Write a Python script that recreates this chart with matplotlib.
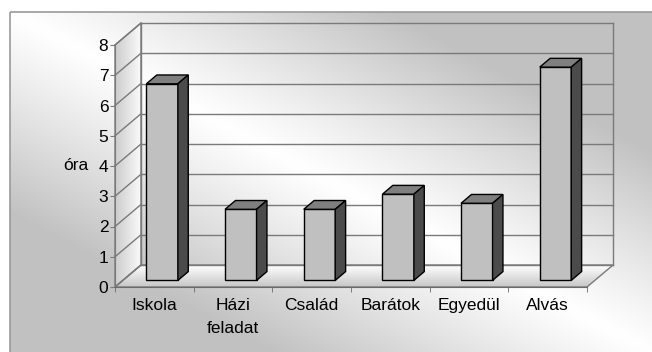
import numpy as np
import matplotlib
matplotlib.use("Agg")
from matplotlib import pyplot as plt
from matplotlib.patches import Polygon, Rectangle

# adatok
categories = ["Iskola", "Házi\nfeladat", "Család", "Barátok", "Egyedül", "Alvás"]
hours = [6.5, 2.35, 2.35, 2.85, 2.55, 7.05]
yticks = [0, 1, 2, 3, 4, 5, 6, 7, 8]
ylabel = "óra"

plt.rcParams["font.family"] = ["Liberation Sans", "DejaVu Sans"]

W, H = 652, 352
fig = plt.figure(figsize=(W / 100, H / 100), dpi=100)

# hatter: atlos szurke-feher-szurke atmenet
bg = fig.add_axes([0, 0, 1, 1])
bg.set_xlim(0, W)
bg.set_ylim(H, 0)
bg.axis("off")
xx, yy = np.meshgrid(np.linspace(10, W, 300), np.linspace(12, H, 200))
t = (xx - 10) / 642 - (yy - 12) / 340
g = 1 - 0.24 * np.clip(np.abs(t) * 1.7, 0, 1) ** 1.1
bg.imshow(np.dstack([g, g, g]), extent=[10, W, H, 12], aspect="auto",
          interpolation="bilinear", zorder=0)
bg.add_patch(Rectangle((10, 12), 700, 400, fill=False, edgecolor="#9a9a9a", lw=1.2, zorder=1))

# fo tengely: x = kategoria, y = ora
ax = fig.add_axes([0, 0, 1, 1])
ax.set_facecolor("none")
px_x = 78.67   # pixel / kategoria
px_y = 30.25   # pixel / ora
ax.set_xlim(-115 / px_x, (W - 115) / px_x)
ax.set_ylim(-(H - 287) / px_y, 287 / px_y)

DX = 26 / px_x   # melyseg eltolas
DY = 22 / px_y
n = len(categories)
top = yticks[-1]
grid_c = "#7a7a7a"

def p(x, y, d):
    return (x + d * DX, y + d * DY)

# padlo
floor = Polygon([p(0, 0, 0), p(n, 0, 0), p(n, 0, 1), p(0, 0, 1)], closed=True,
                facecolor="none", edgecolor=grid_c, lw=1, zorder=2)
ax.add_patch(floor)
fg = np.linspace(0.78, 1.0, 50).reshape(-1, 1)
im = ax.imshow(np.dstack([fg, fg, fg]), extent=[0, n + DX, 0, DY], origin="lower",
               aspect="auto", interpolation="bilinear", zorder=1)
im.set_clip_path(floor)

# oldalfal
side = Polygon([p(0, 0, 0), p(0, top, 0), p(0, top, 1), p(0, 0, 1)], closed=True,
               facecolor="none", edgecolor=grid_c, lw=1, zorder=2)
ax.add_patch(side)
sg = np.linspace(0.8, 0.98, 50).reshape(1, -1)
im2 = ax.imshow(np.dstack([sg, sg, sg]), extent=[0, DX, 0, top + DY], origin="lower",
                aspect="auto", interpolation="bilinear", zorder=1)
im2.set_clip_path(side)

# racsvonalak (hatfal + oldalfal)
for v in yticks:
    a, b = p(0, v, 0), p(0, v, 1)
    ax.plot([a[0], b[0]], [a[1], b[1]], color=grid_c, lw=1, zorder=2)
    c = p(n, v, 1)
    ax.plot([b[0], c[0]], [b[1], c[1]], color=grid_c, lw=1, zorder=2)
for x in [0, n]:
    a, b = p(x, 0, 1), p(x, top, 1)
    ax.plot([a[0], b[0]], [a[1], b[1]], color=grid_c, lw=1, zorder=2)

# oszlopok
bw = 0.4
d0, d1 = 0.3, 0.7
for i, v in enumerate(hours):
    x0 = i + 0.5 - bw / 2
    x1 = x0 + bw
    ax.bar(i + 0.5 + d0 * DX, v, width=bw, bottom=d0 * DY, color="#c0c0c0",
           edgecolor="black", lw=1, zorder=4)
    ax.add_patch(Polygon([p(x0, v, d0), p(x1, v, d0), p(x1, v, d1), p(x0, v, d1)],
                         closed=True, facecolor="#7f7f7f", edgecolor="black", lw=1, zorder=4))
    ax.add_patch(Polygon([p(x1, 0, d0), p(x1, v, d0), p(x1, v, d1), p(x1, 0, d1)],
                         closed=True, facecolor="#4b4b4b", edgecolor="black", lw=1, zorder=4))

# tengelyek
for s in ["top", "right"]:
    ax.spines[s].set_visible(False)
ax.spines["left"].set_position(("data", 0))
ax.spines["left"].set_bounds(0, top)
ax.spines["left"].set_color(grid_c)
ax.spines["bottom"].set_position(("data", 0))
ax.spines["bottom"].set_bounds(0, n)
ax.spines["bottom"].set_color("#6a6a6a")
ax.spines["left"].set_zorder(3)
ax.spines["bottom"].set_zorder(3)

ax.set_yticks(yticks)
ax.set_yticklabels([str(v) for v in yticks], fontsize=12.5)
ax.tick_params(axis="y", length=3.6, pad=1.2, color=grid_c, direction="out")

ax.set_xticks([i + 0.5 for i in range(n)])
ax.set_xticklabels(categories, fontsize=12.5, linespacing=1.65)
ax.set_xticks(range(n + 1), minor=True)
ax.tick_params(axis="x", which="major", length=0, pad=8)
ax.tick_params(axis="x", which="minor", length=3.6, color="#6a6a6a", direction="out")

ax.text(-0.34, 4, ylabel, fontsize=12.5, ha="right", va="center")

fig.savefig("out.png", dpi=100)
